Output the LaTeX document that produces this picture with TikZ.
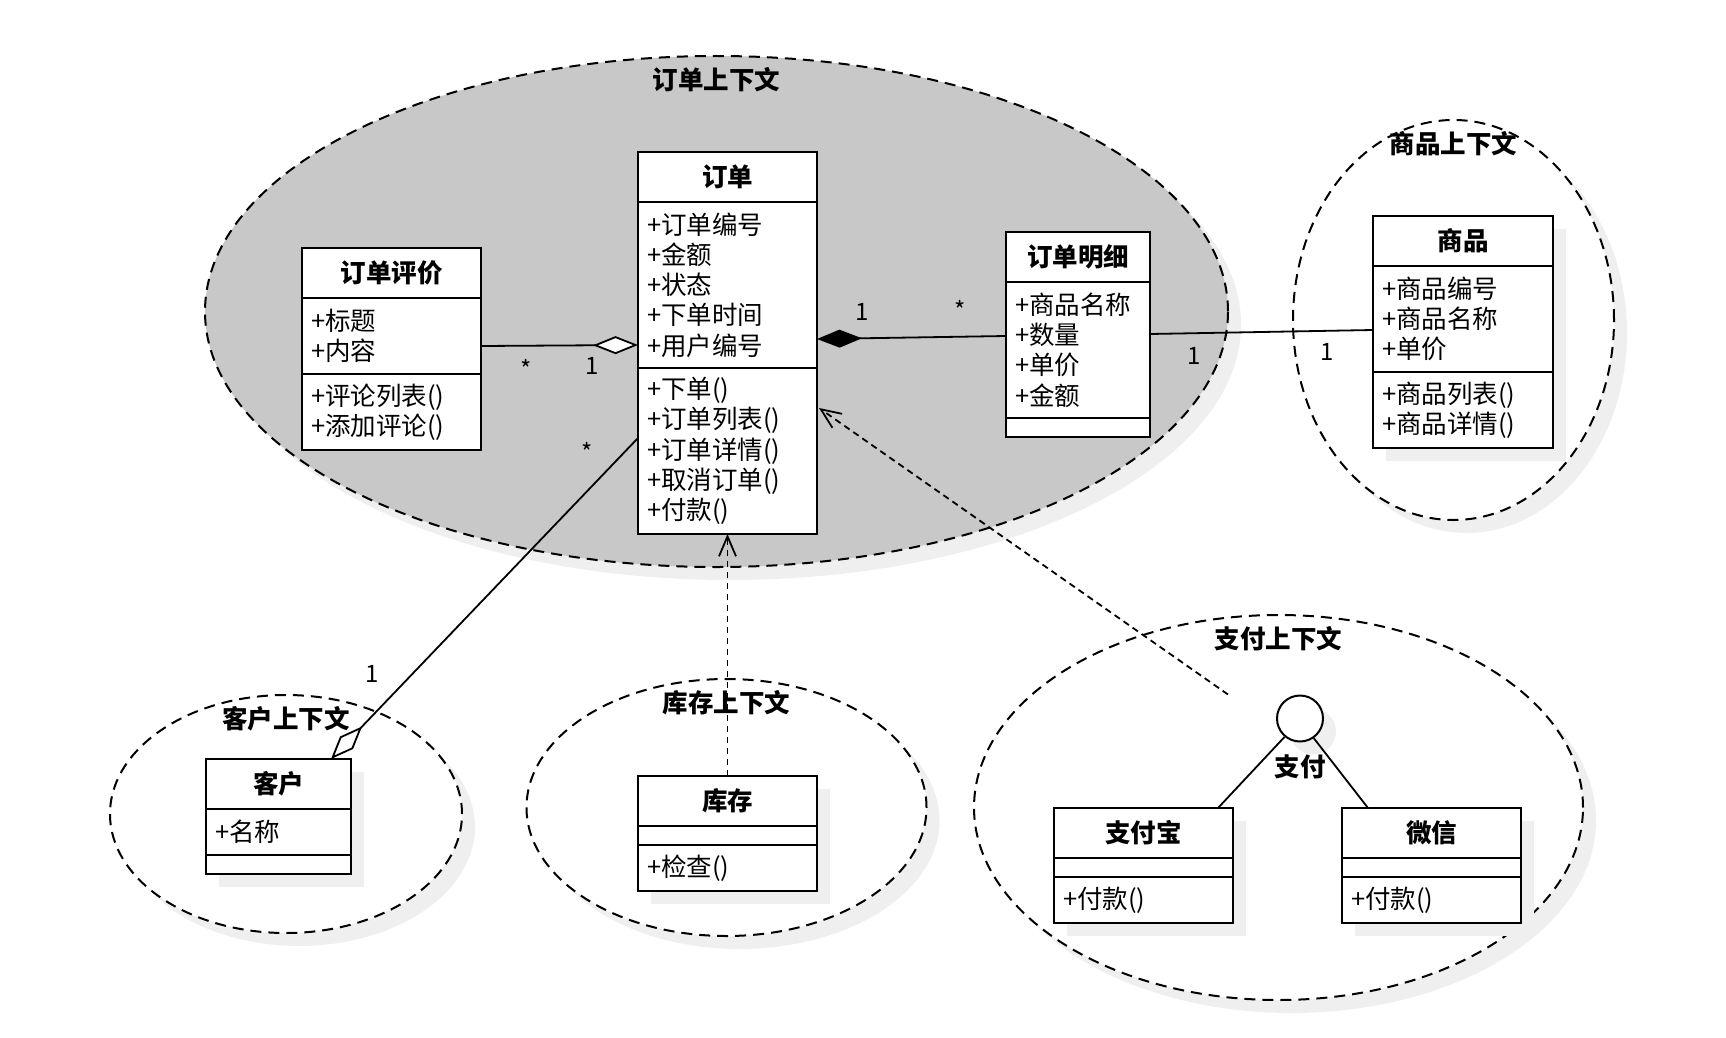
\documentclass[tikz,border=0pt]{standalone}
\usepackage{fontspec}
\setmainfont{Noto Sans CJK SC}
\usetikzlibrary{arrows.meta, positioning, shapes.geometric, shadows, calc}
\definecolor{ContextGray}{RGB}{200,200,200}
\definecolor{ShadowGray}{RGB}{239,239,239}

\begin{document}
\begin{tikzpicture}[
    x=1pt, y=-1pt,
    font=\fontsize{25.5}{30.3}\selectfont,
    shadowed/.style={drop shadow={shadow xshift=13pt, shadow yshift=-13pt,
        fill=#1, opacity=1}},
    shadowed/.default=ShadowGray,
    ctx/.style={ellipse, draw, line width=2pt, dash pattern=on 11pt off 7pt,
        inner sep=0pt, outer sep=0pt, shadowed},
    ctxtitle/.style={font=\fontsize{25.5}{30.3}\selectfont\bfseries, inner sep=0pt},
    clshead/.style={draw, line width=2pt, fill=white, anchor=north west,
        font=\fontsize{25.5}{30.3}\selectfont\bfseries, minimum height=50pt,
        inner sep=0pt, outer sep=0pt},
    clsbody/.style={draw, line width=2pt, fill=white, align=left,
        inner xsep=9pt, inner ysep=0pt, outer sep=0pt},
    assoc/.style={draw, line width=1.8pt},
    aggr/.style={assoc, -{Diamond[fill=white, length=45pt, width=18pt]}},
    comp/.style={assoc, -{Diamond[length=45pt, width=18pt]}},
    dep/.style={assoc, dash pattern=on 6.5pt off 4.5pt,
        -{Straight Barb[length=20pt, width=17pt]}},
    mult/.style={anchor=base, inner sep=0pt, font=\fontsize{24}{28}\selectfont},
]
\useasboundingbox (0,0) rectangle (1726,1038);

% Kontexte (Ellipsen) mit Titel
\foreach \id/\x/\y/\rx/\ry/\col/\ttl in {%
    orderctx/716.5/311.5/511.5/255.5/ContextGray/订单上下文,
    productctx/1453.5/320/160.5/200/white/商品上下文,
    payctx/1278.5/807.5/304.5/192.5/white/支付上下文,
    customerctx/286/814/176/119/white/客户上下文,
    stockctx/726.5/807.5/200/128.5/white/库存上下文%
}{
    \node[ctx, fill=\col, minimum width=2*\rx, minimum height=2*\ry] (\id) at (\x,\y) {};
    \node[ctxtitle] (\id-t) at ($(\id.north)+(0,24)$) {\ttl};
}

% Klassen: Kopf, Attribute, Methoden
\foreach \id/\x/\y/\w/\ttl/\na/\attrs/\nm/\meths/\shc in {%
    review/302/248/179/订单评价/2/{+标题\\+内容}/2/{+评论列表()\\+添加评论()}/none,
    order/638/152/179/订单/5/{+订单编号\\+金额\\+状态\\+下单时间\\+用户编号}/5/{+下单()\\+订单列表()\\+订单详情()\\+取消订单()\\+付款()}/none,
    detail/1006/232/144/订单明细/4/{+商品名称\\+数量\\+单价\\+金额}/0/{}/none,
    product/1373/216/180/商品/3/{+商品编号\\+商品名称\\+单价}/2/{+商品列表()\\+商品详情()}/ShadowGray,
    customer/206/759/145/客户/1/{+名称}/0/{}/ShadowGray,
    stock/638/776/179/库存/0/{}/1/{+检查()}/ShadowGray,
    alipay/1054/808/179/支付宝/0/{}/1/{+付款()}/ShadowGray,
    wechat/1342/808/179/微信/0/{}/1/{+付款()}/ShadowGray%
}{
    \pgfmathsetmacro{\tw}{\w-18}
    \node[clshead, minimum width=\w, shadowed=\shc] (\id) at (\x,\y) {\ttl};
    \node[clsbody, text width=\tw pt, minimum height={max(19,30*\na+16)},
        shadowed=\shc, below=0pt of \id] (\id-a) {\attrs};
    \node[clsbody, text width=\tw pt, minimum height={max(19,30*\nm+16)},
        shadowed=\shc, below=0pt of \id-a] (\id-m) {\meths};
}

% Schnittstelle
\node[circle, draw, line width=2pt, fill=white, minimum size=46pt,
    inner sep=0pt, shadowed] (pay) at (1300,718.5) {};
\node[ctxtitle] (pay-t) at ($(pay.south)+(0,24)$) {支付};
\coordinate (payend) at ($(pay.center)+(-72,-24)$);

% Beziehungen
\draw[aggr] ($(review-a.east)+(0,10)$) -- ($(order-a.west)+(0,60)$);
\draw[comp] ($(detail-a.west)+(0,-14)$) -- ($(order-a.east)+(0,54)$);
\draw[assoc] ($(detail-a.east)+(0,-16)$) -- ($(product-a.west)+(0,11)$);
\draw[aggr] ($(order-m.west)+(0,-13)$) -- ($(customer.north east)+(-20,0)$);
\draw[dep] (stock.north) -- (order-m.south);
\draw[dep] (payend) -- ($(order-m.east)+(2,-43)$);
\draw[assoc] (pay.-130) -- ($(alipay.north east)+(-15,0)$);
\draw[assoc] (pay.-55) -- ($(wechat.north west)+(26,0)$);

% Multiplizitaeten
\foreach \m/\x/\y [count=\i] in {%
    */526/378, 1/592/374.6, 1/862.5/320.7, */960/319,
    1/1194/364, 1/1327.4/360.3, */587/461, 1/372.6/682.7%
}{
    \node[mult] (mult\i) at (\x,\y) {\m};
}

\end{tikzpicture}
\end{document}
